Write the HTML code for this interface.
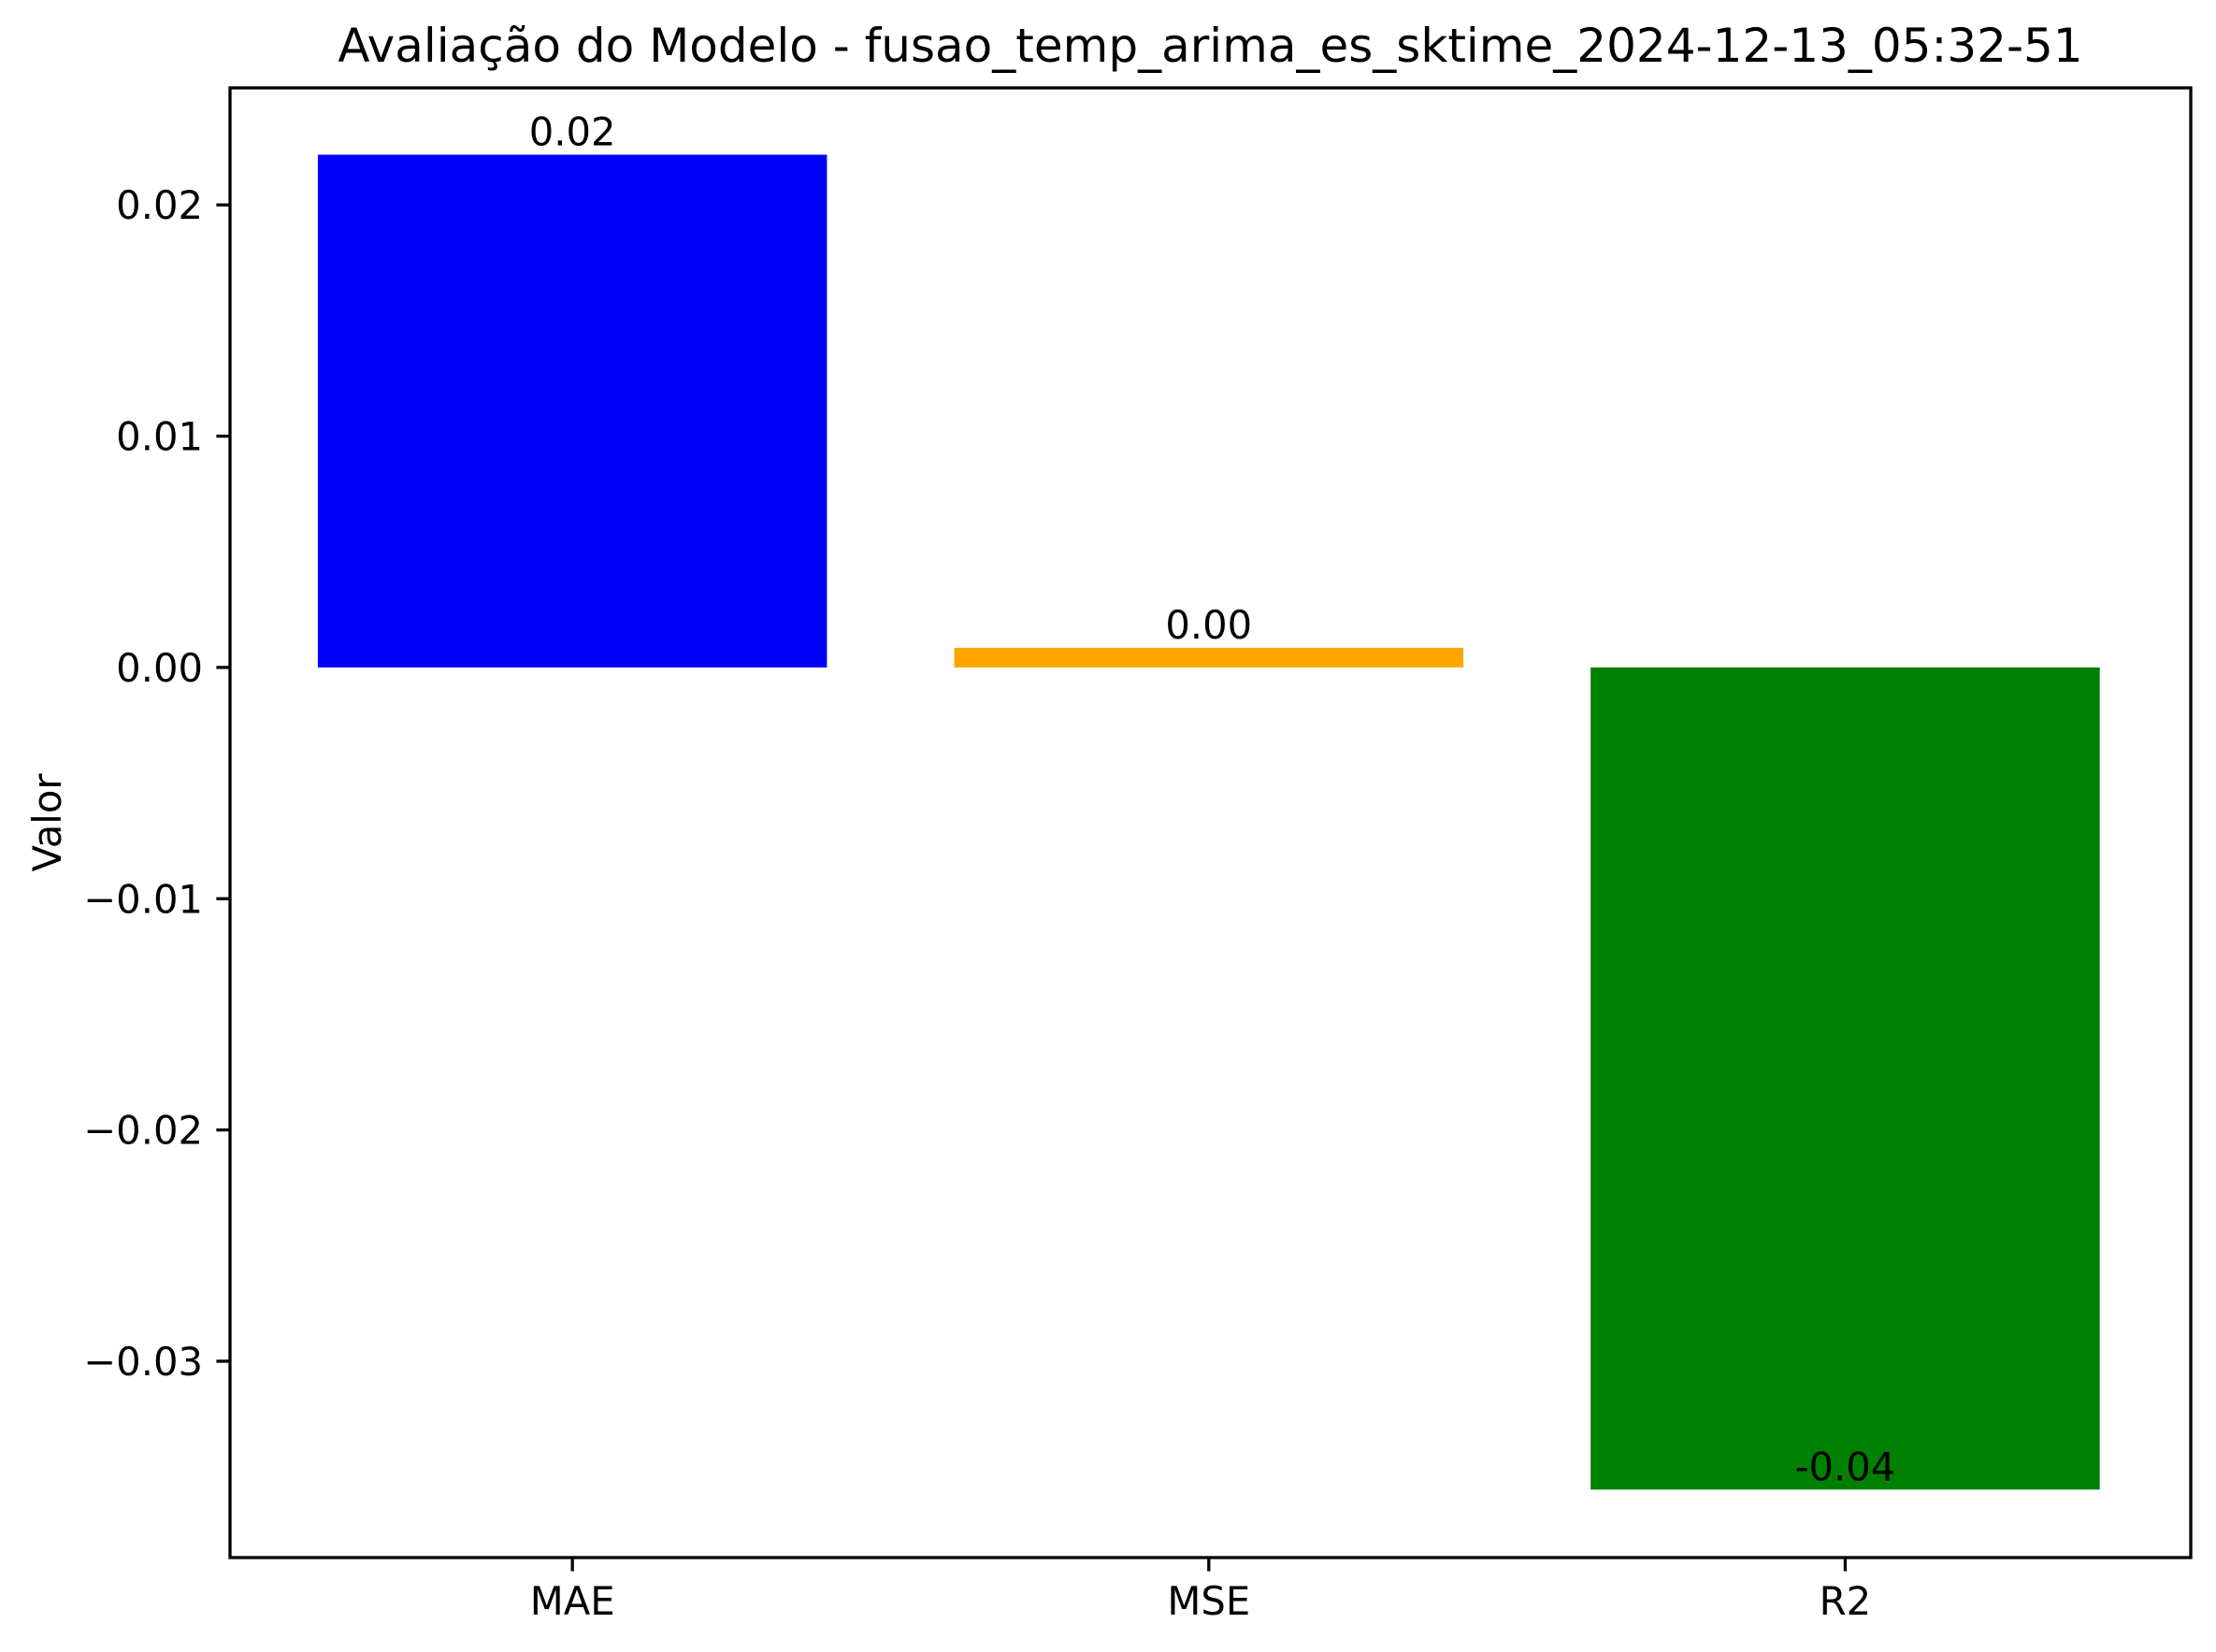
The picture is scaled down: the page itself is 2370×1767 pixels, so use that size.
<!DOCTYPE html>
<html><head><meta charset="utf-8"><style>
html,body{margin:0;padding:0;background:#fff}
svg{display:block}
text{font-family:"DejaVu Sans","Liberation Sans",sans-serif;fill:#000}
</style></head><body>
<svg id="chart" width="2370" height="1767" viewBox="0 0 2370 1767"></svg>
<script>
const categories = ["MAE","MSE","R2"];
const values = [0.02217, 0.00085, -0.03555];
const colors = ["#0000ff","#ffa500","#008000"];
const valueLabels = ["0.02","0.00","-0.04"];
const yTicks = [0.02,0.01,0.00,-0.01,-0.02,-0.03];
const yTickLabels = ["0.02","0.01","0.00","\u22120.01","\u22120.02","\u22120.03"];

const L=246,R=2343,T=94,B=1666;
const yMin=-0.03849,yMax=0.02506,xMin=-0.538,xMax=2.543;
const ys=v=>B-(v-yMin)/(yMax-yMin)*(B-T);
const xs=i=>L+(i-xMin)/(xMax-xMin)*(R-L);
const NS="http://www.w3.org/2000/svg";
const svg=document.getElementById('chart');
function mk(tag,attrs,parent){const e=document.createElementNS(NS,tag);for(const k in attrs)e.setAttribute(k,attrs[k]);(parent||svg).appendChild(e);return e;}

const title=mk('text',{x:(L+R)/2,y:66,'text-anchor':'middle','font-size':50});


title.textContent="Avaliação do Modelo - fusao_temp_arima_es_sktime_2024-12-13_05:32-51";

categories.forEach((c,i)=>{
  const v=values[i];
  const x0=xs(i-0.4),x1=xs(i+0.4);
  const y0=ys(Math.max(v,0)),y1=ys(Math.min(v,0));
  const r=mk('rect',{x:x0,y:y0,width:x1-x0,height:y1-y0,fill:colors[i]});
  
  
  const t=mk('text',{x:xs(i),y:ys(v)-10,'text-anchor':'middle','font-size':41.7});
  
  
  t.textContent=valueLabels[i];
  const tk=mk('line',{x1:xs(i),x2:xs(i),y1:B,y2:B+14.6,stroke:'#000','stroke-width':3.3});
  
  
  const tl=mk('text',{x:xs(i),y:1727,'text-anchor':'middle','font-size':41.7});
  
  
  tl.textContent=c;
});

yTicks.forEach((v,i)=>{
  const y=ys(v);
  const tk=mk('line',{x1:L-14.6,x2:L,y1:y,y2:y,stroke:'#000','stroke-width':3.3});
  
  
  const tl=mk('text',{x:217,y:y+15,'text-anchor':'end','font-size':41.7});
  
  
  tl.textContent=yTickLabels[i];
});

const frame=mk('rect',{x:L,y:T,width:R-L,height:B-T,fill:'none',stroke:'#000','stroke-width':3.3});



const yl=mk('text',{x:0,y:0,'text-anchor':'middle','font-size':41.7,transform:`translate(65,${(T+B)/2}) rotate(-90)`});


yl.textContent="Valor";
</script>
</body></html>
